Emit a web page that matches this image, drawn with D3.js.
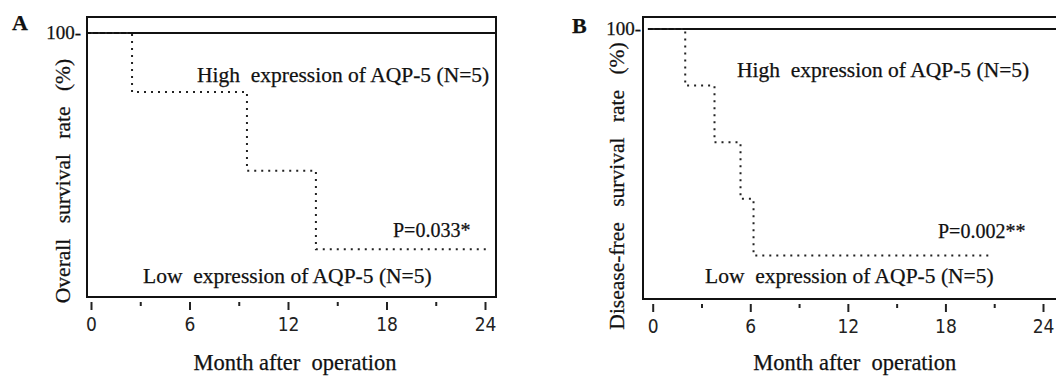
<!DOCTYPE html>
<html>
<head>
<meta charset="utf-8">
<script src="https://cdn.jsdelivr.net/npm/d3@7"></script>
<style>
  html, body { margin: 0; padding: 0; background: #fff; }
  svg { display: block; }
</style>
</head>
<body>
<svg id="chart" width="1056" height="376"></svg>
<script>
const SERIF = "'Times New Roman', 'Liberation Serif', Tinos, 'DejaVu Serif', serif";
const SANS = "'DejaVu Sans Condensed', 'DejaVu Sans', sans-serif";

// Tick months on the x axis
const majorTicks = [0, 6, 12, 18, 24];
const minorTicks = [3, 9, 15, 21];

// Panel A: overall survival, low expression group (Kaplan-Meier steps)
const lowTimesA = [0, 2.5, 9.5, 13.7, 24.2];
const lowSurvA = [100, 80, 53.3, 26.7, 26.7];
// high expression group stays at 100 across the whole box
const highTimesA = [-0.25, 24.7];

// Panel B: disease-free survival, low expression group
const lowTimesB = [0, 2.0, 3.8, 5.4, 6.2, 20.9];
const lowSurvB = [100, 80, 60, 40, 20, 20];
const highTimesB = [-0.3, 25.6];

const panels = [
  {
    letter: "A", yTitle: "Overall survival rate (%)", pText: "P=0.033*",
    low: lowTimesA.map((t, i) => ({ t, s: lowSurvA[i] })),
    high: highTimesA.map(t => ({ t, s: 100 })),
    box: { x0: 87, y0: 17, x1: 496, y1: 297 },
    xRange: [91, 485], yRange: [328, 33],
    letterPos: [12, 30], hundredX: 81, yTitle: "Overall survival rate (%)", yTitlePos: [70, 181],
    highPos: [197, 82], lowPos: [143, 283], pPos: [393, 237]
  },
  {
    letter: "B", yTitle: "Disease-free survival rate (%)", pText: "P=0.002**",
    low: lowTimesB.map((t, i) => ({ t, s: lowSurvB[i] })),
    high: highTimesB.map(t => ({ t, s: 100 })),
    box: { x0: 643, y0: 17, x1: 1070, y1: 299 },
    xRange: [652.7, 1043], yRange: [312, 29],
    letterPos: [572, 33], hundredX: 641, yTitlePos: [624, 186],
    highPos: [737, 77], lowPos: [705, 283], pPos: [938, 238]
  }
];

const svg = d3.select("#chart");

panels.forEach(p => drawPanel(p));

function serifText(g, size) {
  return g.append("text")
    .attr("font-family", SERIF)
    .attr("font-size", size)
    .attr("fill", "#111")
    .attr("stroke", "#111").attr("stroke-width", 0.25)
    .style("white-space", "pre");
}

function drawPanel(p) {
  const g = svg.append("g");
  const x = d3.scaleLinear().domain([0, 24]).range(p.xRange);
  const y = d3.scaleLinear().domain([0, 100]).range(p.yRange);

  // frame
  g.append("rect")
    .attr("x", p.box.x0).attr("y", p.box.y0)
    .attr("width", p.box.x1 - p.box.x0).attr("height", p.box.y1 - p.box.y0)
    .attr("fill", "none").attr("stroke", "#111").attr("stroke-width", 2);

  const line = d3.line()
    .x(d => x(d.t)).y(d => y(d.s))
    .curve(d3.curveStepAfter);

  // high expression: solid
  g.append("path").datum(p.high)
    .attr("d", line)
    .attr("fill", "none").attr("stroke", "#111").attr("stroke-width", 2);

  // low expression: dotted
  g.append("path").datum(p.low)
    .attr("d", line)
    .attr("fill", "none").attr("stroke", "#222")
    .attr("stroke-width", 2).attr("stroke-dasharray", "2,5");

  // x axis ticks (no domain line)
  const axisY = p.box.y1 + 5;
  const major = d3.axisBottom(x).tickValues(majorTicks).tickSize(8).tickPadding(8);
  const ax = g.append("g").attr("transform", `translate(0,${axisY})`).call(major);
  ax.select(".domain").remove();
  ax.attr("font-family", SANS).attr("font-size", 19);
  ax.selectAll(".tick line").attr("stroke", "#222").attr("stroke-width", 2);
  ax.selectAll(".tick text").attr("fill", "#222");

  const minor = d3.axisBottom(x).tickValues(minorTicks).tickSize(4).tickFormat("");
  const mx = g.append("g").attr("transform", `translate(0,${axisY})`).call(minor);
  mx.select(".domain").remove();
  mx.selectAll(".tick line").attr("stroke", "#222").attr("stroke-width", 2);

  // x title
  serifText(g, 22.5)
    .attr("x", (p.xRange[0] + p.xRange[1]) / 2 + 7).attr("y", 370)
    .attr("text-anchor", "middle")
    .text("Month after  operation");

  // y tick "100-"
  serifText(g, 19)
    .attr("x", p.hundredX).attr("y", y(100) + 6)
    .attr("text-anchor", "end")
    .text("100-");

  // y title
  serifText(g, 21.5)
    .attr("transform", `translate(${p.yTitlePos[0]},${p.yTitlePos[1]}) rotate(-90)`)
    .attr("text-anchor", "middle")
    .attr("word-spacing", 10)
    .text(p.yTitle);

  // panel letter
  serifText(g, 22)
    .attr("x", p.letterPos[0]).attr("y", p.letterPos[1])
    .attr("font-weight", "bold")
    .text(p.letter);

  // group labels
  serifText(g, 21.5)
    .attr("x", p.highPos[0]).attr("y", p.highPos[1])
    .text("High  expression of AQP-5 (N=5)");
  serifText(g, 21.5)
    .attr("x", p.lowPos[0]).attr("y", p.lowPos[1])
    .text("Low  expression of AQP-5 (N=5)");
  serifText(g, 20)
    .attr("x", p.pPos[0]).attr("y", p.pPos[1])
    .text(p.pText);
}
</script>
</body>
</html>
